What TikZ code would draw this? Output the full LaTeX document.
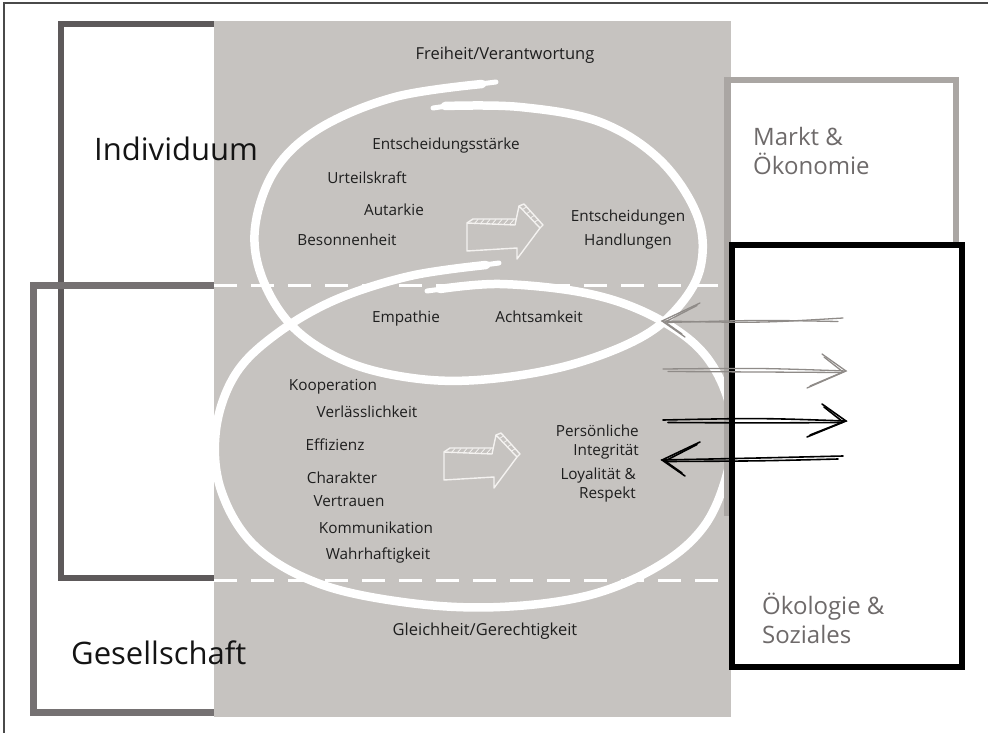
\documentclass[tikz,border=0pt]{standalone}
\usepackage{fontspec}
\usetikzlibrary{calc}
\setmainfont{Open Sans}
\definecolor{bgc}{HTML}{C6C3C0}
\definecolor{indc}{HTML}{5D595A}
\definecolor{gesc}{HTML}{757172}
\definecolor{marc}{HTML}{AAA6A3}
\definecolor{framec}{HTML}{4A4A4A}
\definecolor{txtc}{HTML}{1E1E1E}
\definecolor{sidec}{HTML}{6E6A6A}
\definecolor{arrc}{HTML}{F4F2F0}
\definecolor{arrgray}{HTML}{8F8B88}
\begin{document}
\begin{tikzpicture}[x=1pt,y=-1pt,
  lbl/.style={font=\fontsize{15.3}{19}\selectfont, text=txtc, inner sep=0pt, anchor=mid},
  lblr/.style={lbl, anchor=mid east},
  ttl/.style={font=\fontsize{16.5}{20}\selectfont, text=txtc, inner sep=0pt, anchor=mid},
  big/.style={font=\fontsize{31}{36}\selectfont, text=black!92, inner sep=0pt, anchor=mid west},
  side/.style={font=\fontsize{24}{29}\selectfont, text=sidec, inner sep=0pt, anchor=mid west},
  brush/.style={white, line width=8.5pt, line cap=round, line join=round},
  brushend/.style={white, line width=5pt, line cap=round},
  hollow/.style={draw=arrc, line width=1.4pt, line join=round},
  hatch/.style={draw=arrc, line width=0.8pt},
  sk/.style={line width=1.3pt, line cap=round},
  skb/.style={line width=1.6pt, line cap=round},
  boxline/.style={line join=miter},
  dashline/.style={white, line width=3pt, dash pattern=on 23pt off 14pt}
]
\useasboundingbox (0,0) rectangle (988,733);
% outer frame (top and left)
\draw[framec, line width=1.5pt] (4,733) -- (4,3) -- (988,3);

% Individuum and Gesellschaft boxes
\draw[indc, line width=6.5pt, boxline] (61,24) rectangle (320,578);
\draw[gesc, line width=7pt, boxline] (33.5,285) rectangle (320,712.5);

% grey field
\fill[bgc] (214,21) rectangle (731,717);
\draw[dashline] (214,285) -- (731,285);
\draw[dashline] (214,580) -- (731,580);

% brush loops
\draw[brush] plot[smooth, tension=0.6] coordinates {
  (445,106) (520,107) (600,122) (660,160) (697,215) (701,265) (680,305)
  (640,338) (570,365) (490,379) (420,379) (350,363) (295,329) (263,280)
  (255,228) (275,170) (320,128) (395,97) (482,84)};
\draw[brushend] (433,108) -- (447,106);
\draw[brushend] (480,84) -- (496,82);
\draw[brush] plot[smooth, tension=0.6] coordinates {
  (440,289) (500,284) (580,292) (640,310) (690,340) (718,375) (732,420)
  (728,470) (705,525) (660,565) (590,595) (500,607) (410,603) (320,584)
  (255,546) (221,490) (216,430) (235,375) (275,335) (335,300) (410,276) (486,265)};
\draw[brushend] (427,291) -- (442,289);
\draw[brushend] (484,265) -- (499,263);

% hollow hand-drawn arrows
\begin{scope}
\draw[hollow] (467,223) -- (515,225) -- (519,206) -- (540,228) -- (517,259) -- (517,248) -- (467,251) -- cycle;
\draw[hollow] (467,223) -- (473,219) -- (516,219);
\draw[hollow] (519,206) -- (524,204) -- (543,225) -- (540,228);
\foreach \x in {474,480,...,510} \draw[hatch] (\x,224) -- (\x+4,219.5);
\foreach \t in {0.15,0.35,0.55,0.75} \draw[hatch] ($(520,206)!\t!(540,227)$) -- ++(4,-2.5);
\end{scope}
\begin{scope}[shift={(-23,229)}]
\draw[hollow] (467,223) -- (515,225) -- (519,206) -- (540,228) -- (517,259) -- (517,248) -- (467,251) -- cycle;
\draw[hollow] (467,223) -- (473,219) -- (516,219);
\draw[hollow] (519,206) -- (524,204) -- (543,225) -- (540,228);
\foreach \x in {474,480,...,510} \draw[hatch] (\x,224) -- (\x+4,219.5);
\foreach \t in {0.15,0.35,0.55,0.75} \draw[hatch] ($(520,206)!\t!(540,227)$) -- ++(4,-2.5);
\end{scope}

% Markt box and Oekologie box
\draw[marc, line width=6.5pt, boxline] (727.5,80) rectangle (956,513);
\draw[black, line width=6pt, boxline, fill=white] (732,244.5) rectangle (962,667);

% sketchy arrows on the right
\coordinate (a1s) at (843,318); \coordinate (a1t) at (662,321);
\draw[sk, arrgray] (a1s) .. controls (760,323) .. (a1t);
\draw[sk, arrgray] (838,321.5) .. controls (760,320) .. (667,322.5);
\draw[sk, arrgray] (700,303) -- (a1t) -- (685,337);
\draw[sk, arrgray] (697,305.5) -- (665,322) -- (682,334);

\coordinate (a2s) at (663,369); \coordinate (a2t) at (846,371);
\draw[sk, arrgray] (a2s) .. controls (760,368) .. (a2t);
\draw[sk, arrgray] (668,371.5) .. controls (760,372) .. (842,372.5);
\draw[sk, arrgray] (822,354) -- (a2t) -- (807,388);
\draw[sk, arrgray] (824,357) -- (843,372) -- (810,386);

\coordinate (a3s) at (663,420); \coordinate (a3t) at (846,421);
\draw[skb, black] (a3s) .. controls (760,418) .. (a3t);
\draw[skb, black] (668,422.5) .. controls (760,423) .. (842,422.5);
\draw[skb, black] (822,404) -- (a3t) -- (807,437);
\draw[skb, black] (824,407) -- (843,422) -- (810,435);

\coordinate (a4s) at (843,456); \coordinate (a4t) at (662,460);
\draw[skb, black] (a4s) .. controls (760,458) .. (a4t);
\draw[skb, black] (838,459) .. controls (760,461) .. (667,461.5);
\draw[skb, black] (700,442) -- (a4t) -- (685,476);
\draw[skb, black] (697,444.5) -- (665,461) -- (682,473);

% texts
\node[ttl] (frei) at (505,57) {Freiheit/Verantwortung};
\node[ttl] (gleich) at (485,633) {Gleichheit/Gerechtigkeit};
\node[big] (ind) at (94,158) {Individuum};
\node[big] (ges) at (71,662) {Gesellschaft};
\node[side] (m1) at (753,143) {Markt \&};
\node[side] (m2) at (753,172) {Ökonomie};
\node[side] (o1) at (762,612) {Ökologie \&};
\node[side] (o2) at (762,641) {Soziales};

\node[lbl] (l1) at (446,147) {Entscheidungsstärke};
\node[lbl] (l2) at (367,181) {Urteilskraft};
\node[lbl] (l3) at (394,213) {Autarkie};
\node[lbl] (l4) at (347,243) {Besonnenheit};
\node[lbl] (l5) at (628,219) {Entscheidungen};
\node[lbl] (l6) at (628,243) {Handlungen};
\node[lbl] (l7) at (406,320) {Empathie};
\node[lbl] (l8) at (539,320) {Achtsamkeit};
\node[lbl] (l9) at (333,388) {Kooperation};
\node[lbl] (l10) at (367,415) {Verlässlichkeit};
\node[lbl] (l11) at (335,448) {Effizienz};
\node[lbl] (l12) at (342,481) {Charakter};
\node[lbl] (l13) at (349,504) {Vertrauen};
\node[lbl] (l14) at (376,531) {Kommunikation};
\node[lbl] (l15) at (378,557) {Wahrhaftigkeit};
\node[lblr] (r1) at (639,434) {Persönliche};
\node[lblr] (r2) at (639,453) {Integrität};
\node[lblr] (r3) at (636,477) {Loyalität \&};
\node[lblr] (r4) at (636,496) {Respekt};
\end{tikzpicture}
\end{document}
